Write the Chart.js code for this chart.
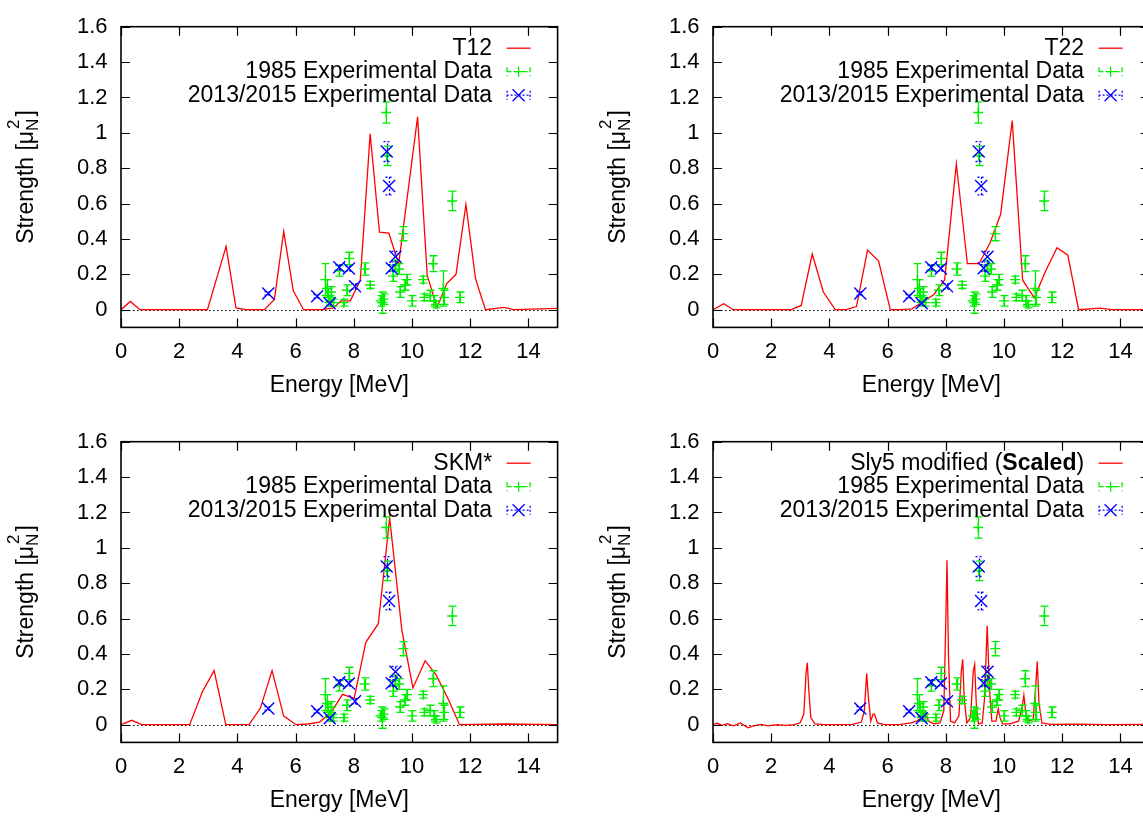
<!DOCTYPE html>
<html>
<head>
<meta charset="utf-8">
<title>M1 strength</title>
<script src="https://cdn.jsdelivr.net/npm/chart.js@4.4.0/dist/chart.umd.min.js"></script>
<style>
    html, body { margin: 0; padding: 0; background: #fff; overflow: hidden; }
    #wrap { position: relative; width: 1143px; height: 817px; overflow: hidden; }
    #wrap canvas { position: absolute; }
</style>
</head>
<body>
<div id="wrap">
    <canvas id="chart-t12" width="580" height="408" style="left:0px;top:0px"></canvas>
    <canvas id="chart-t22" width="580" height="408" style="left:592px;top:0px"></canvas>
    <canvas id="chart-skm" width="580" height="408" style="left:0px;top:415px"></canvas>
    <canvas id="chart-sly5" width="580" height="408" style="left:592px;top:415px"></canvas>
</div>
<script>
// ticks
const xTickValues = [0, 2, 4, 6, 8, 10, 12, 14];
const yTickValues = [0, 0.2, 0.4, 0.6, 0.8, 1, 1.2, 1.4, 1.6];

// theory curves (energy in MeV, strength in muN^2)
const t12Energy = [0, 0.32, 0.65, 2.97, 3.61, 3.95, 4.28, 4.93, 5.27, 5.59, 5.92, 6.27, 6.92, 7.3, 7.56, 7.88, 8.22, 8.56, 8.88, 9.2, 9.54, 10.19, 10.52, 10.86, 11.19, 11.51, 11.85, 12.18, 12.52, 13.16, 13.49, 15];
const t12Strength = [0, 0.047, 0, 0, 0.358, 0.01, 0, 0, 0.058, 0.443, 0.107, 0, 0, 0.01, 0.05, 0.05, 0.167, 0.995, 0.438, 0.433, 0.26, 1.09, 0.194, 0.013, 0.148, 0.2, 0.595, 0.176, 0, 0.013, 0, 0.007];

const t22Energy = [0, 0.37, 0.69, 2.69, 3.03, 3.41, 3.79, 4.2, 4.57, 4.93, 5.31, 5.69, 6.09, 6.46, 6.84, 7.21, 7.58, 7.96, 8.36, 8.74, 9.14, 9.52, 9.88, 10.28, 10.64, 11.04, 11.42, 11.82, 12.19, 12.56, 13.3, 13.7, 15];
const t22Strength = [0, 0.034, 0, 0, 0.024, 0.315, 0.1, 0, 0, 0.018, 0.337, 0.275, 0, 0, 0.005, 0.045, 0.085, 0.17, 0.824, 0.26, 0.26, 0.378, 0.538, 1.069, 0.167, 0.067, 0.216, 0.35, 0.308, 0, 0.009, 0, 0];

const skmEnergy = [0, 0.37, 0.71, 2.36, 2.8, 3.2, 3.6, 4.4, 4.79, 5.19, 5.59, 6.02, 6.42, 6.82, 7.22, 7.61, 8.01, 8.41, 8.84, 9.23, 9.65, 10.03, 10.45, 10.83, 11.23, 11.63, 13.2, 15];
const skmStrength = [0, 0.025, 0, 0, 0.188, 0.306, 0, 0, 0.094, 0.306, 0.049, 0, 0.004, 0.015, 0.07, 0.172, 0.149, 0.466, 0.571, 1.168, 0.533, 0.208, 0.362, 0.281, 0.149, 0, 0.004, 0];

const sly5Energy = [0, 0.15, 0.3, 0.5, 0.7, 0.95, 1.2, 1.4, 1.65, 1.9, 2.2, 2.5, 2.8, 3.0, 3.12, 3.2, 3.24, 3.29, 3.36, 3.5, 3.8, 4.3, 4.8, 5.1, 5.2, 5.28, 5.34, 5.42, 5.5, 5.55, 5.65, 5.9, 6.4, 6.8, 7.0, 7.15, 7.3, 7.4, 7.6, 7.8, 7.93, 8.0, 8.04, 8.09, 8.16, 8.3, 8.45, 8.53, 8.58, 8.63, 8.72, 8.85, 8.94, 8.99, 9.05, 9.12, 9.25, 9.33, 9.42, 9.5, 9.58, 9.72, 9.8, 9.86, 9.95, 10.2, 10.5, 10.62, 10.68, 10.75, 10.85, 11.0, 11.08, 11.14, 11.2, 11.3, 11.6, 12.5, 13.5, 15];
const sly5Strength = [0.003, 0.008, -0.004, 0.006, -0.006, 0.01, -0.018, -0.006, 0.002, -0.006, 0, -0.004, 0, 0.012, 0.06, 0.3, 0.35, 0.2, 0.04, 0.005, 0, 0, 0.002, 0.015, 0.08, 0.29, 0.15, 0.02, 0.06, 0.06, 0.01, 0, 0, 0.01, 0.02, 0.04, 0.075, 0.02, 0.005, 0.01, 0.08, 0.6, 0.93, 0.4, 0.02, 0.01, 0.05, 0.3, 0.37, 0.15, 0.01, 0.04, 0.3, 0.34, 0.1, 0.005, 0.01, 0.15, 0.56, 0.2, 0.02, 0.02, 0.09, 0.04, 0.005, 0.005, 0.02, 0.1, 0.167, 0.06, 0.02, 0.03, 0.2, 0.357, 0.12, 0.01, 0.002, 0.003, 0, 0.002];

// 1985 experimental data
const exp1985Energy = [7.02, 7.08, 7.12, 7.18, 7.22, 7.30, 7.50, 7.65, 7.76, 7.84, 8.37, 8.56, 8.92, 8.97, 9.02, 9.11, 9.13, 9.35, 9.42, 9.55, 9.59, 9.70, 9.75, 9.82, 10.0, 10.38, 10.42, 10.62, 10.72, 10.75, 10.82, 11.07, 11.10, 11.38, 11.64];
const exp1985Strength = [0.17, 0.12, 0.08, 0.05, 0.10, 0.04, 0.22, 0.04, 0.11, 0.29, 0.23, 0.14, 0.05, 0.04, 0.06, 1.115, 0.87, 0.19, 0.25, 0.23, 0.10, 0.43, 0.14, 0.17, 0.05, 0.17, 0.07, 0.08, 0.26, 0.05, 0.03, 0.12, 0.07, 0.615, 0.07];
const exp1985Error = [0.09, 0.05, 0.04, 0.03, 0.03, 0.02, 0.03, 0.02, 0.03, 0.035, 0.035, 0.02, 0.03, 0.06, 0.03, 0.06, 0.055, 0.03, 0.03, 0.03, 0.03, 0.04, 0.03, 0.03, 0.03, 0.02, 0.02, 0.03, 0.045, 0.03, 0.02, 0.10, 0.04, 0.055, 0.03];

// 2013/2015 experimental data
const exp2013Energy = [5.06, 6.74, 7.17, 7.50, 7.83, 8.04, 9.13, 9.21, 9.30, 9.43];
const exp2013Strength = [0.092, 0.076, 0.036, 0.24, 0.233, 0.132, 0.894, 0.699, 0.235, 0.30];
const exp2013Error = [0.01, 0.01, 0.01, 0.015, 0.015, 0.015, 0.056, 0.05, 0.02, 0.03];

const FONT = '"Liberation Sans", Arial, Helvetica, sans-serif';
const RED = '#ff0000';
const GREEN = '#00ee00';
const BLUE = '#0000ff';

function toPoints(xs, ys) {
    return xs.map((x, i) => ({ x: x, y: ys[i] }));
}

// gnuplot look: frame, inward ticks, zero axis, error bars, y title, key
const gnuplotLook = {
    id: 'gnuplotLook',
    beforeDatasetsDraw(chart) {
        const { ctx, chartArea: a, scales: { y } } = chart;
        const y0 = Math.round(y.getPixelForValue(0)) + 0.5;
        ctx.save();
        ctx.strokeStyle = '#000';
        ctx.lineWidth = 1;
        ctx.setLineDash([1.5, 2.5]);
        ctx.beginPath();
        ctx.moveTo(a.left, y0);
        ctx.lineTo(a.right, y0);
        ctx.stroke();
        ctx.restore();
    },
    afterDatasetDraw(chart, args) {
        const ds = chart.data.datasets[args.index];
        if (!ds.errors) return;
        const { ctx, chartArea: a, scales: { x, y } } = chart;
        ctx.save();
        ctx.beginPath();
        ctx.rect(a.left, a.top, a.width, a.height);
        ctx.clip();
        ctx.strokeStyle = ds.borderColor;
        ctx.lineWidth = 1.3;
        if (ds.errorDash) ctx.setLineDash(ds.errorDash);
        ds.data.forEach((p, i) => {
            const px = Math.round(x.getPixelForValue(p.x)) + 0.5;
            const lo = y.getPixelForValue(p.y - ds.errors[i]);
            const hi = y.getPixelForValue(p.y + ds.errors[i]);
            ctx.beginPath();
            ctx.moveTo(px, lo); ctx.lineTo(px, hi);
            ctx.moveTo(px - 4, lo); ctx.lineTo(px + 4, lo);
            ctx.moveTo(px - 4, hi); ctx.lineTo(px + 4, hi);
            ctx.stroke();
        });
        ctx.restore();
    },
    afterDraw(chart) {
        const { ctx, chartArea: a, scales: { x, y } } = chart;
        ctx.save();
        ctx.strokeStyle = '#000';
        ctx.lineWidth = 1.6;
        ctx.strokeRect(a.left, a.top, a.width, a.height);
        ctx.lineWidth = 1.2;
        ctx.beginPath();
        xTickValues.forEach(v => {
            const px = Math.round(x.getPixelForValue(v)) + 0.5;
            ctx.moveTo(px, a.bottom); ctx.lineTo(px, a.bottom - 9);
            ctx.moveTo(px, a.top); ctx.lineTo(px, a.top + 9);
        });
        yTickValues.forEach(v => {
            const py = Math.round(y.getPixelForValue(v)) + 0.5;
            ctx.moveTo(a.left, py); ctx.lineTo(a.left + 9, py);
            ctx.moveTo(a.right, py); ctx.lineTo(a.right - 9, py);
        });
        ctx.stroke();

        // y axis title: Strength [mu_N^2]
        const cy = (a.top + a.bottom) / 2;
        ctx.translate(33, cy);
        ctx.rotate(-Math.PI / 2);
        ctx.fillStyle = '#000';
        ctx.textBaseline = 'alphabetic';
        ctx.textAlign = 'left';
        const big = '23px ' + FONT, small = '17px ' + FONT;
        ctx.font = big;
        const w1 = ctx.measureText('Strength [\u03bc').width;
        const w4 = ctx.measureText(']').width;
        ctx.font = small;
        const w2 = ctx.measureText('N').width;
        const total = w1 + w2 + w4 + 2;
        let tx = -total / 2;
        ctx.font = big;
        ctx.fillText('Strength [\u03bc', tx, 0);
        tx += w1;
        ctx.font = small;
        ctx.fillText('N', tx, 5);
        ctx.fillText('2', tx + 2, -14);
        tx += w2 + 2;
        ctx.font = big;
        ctx.fillText(']', tx, 0);
        ctx.restore();

        drawKey(chart);
    }
};

function drawKey(chart) {
    const { ctx, chartArea: a } = chart;
    const parts = chart.options.plugins.gnuplotLook.title;
    const rows = [a.top + 21.5, a.top + 45, a.top + 68.5];
    const textRight = a.right - 65.5;
    const s1 = a.right - 51, s2 = a.right - 27, sm = (s1 + s2) / 2;
    const keyFont = '23px ' + FONT;
    ctx.save();
    ctx.fillStyle = '#000';
    ctx.textBaseline = 'middle';
    ctx.textAlign = 'left';

    // first row can have a bold piece
    let widths = parts.map(p => {
        ctx.font = (p.bold ? 'bold ' : '') + keyFont;
        return ctx.measureText(p.text).width;
    });
    let tx = textRight - widths.reduce((s, w) => s + w, 0);
    parts.forEach((p, i) => {
        ctx.font = (p.bold ? 'bold ' : '') + keyFont;
        ctx.fillText(p.text, tx, rows[0]);
        tx += widths[i];
    });
    ctx.font = keyFont;
    ctx.textAlign = 'right';
    ctx.fillText('1985 Experimental Data', textRight, rows[1]);
    ctx.fillText('2013/2015 Experimental Data', textRight, rows[2]);

    ctx.lineWidth = 1.3;
    ctx.strokeStyle = RED;
    ctx.beginPath();
    ctx.moveTo(s1, rows[0]); ctx.lineTo(s2, rows[0]);
    ctx.stroke();

    [[GREEN, rows[1], [5, 3]], [BLUE, rows[2], [2, 2]]].forEach(([col, ry, dash]) => {
        ctx.strokeStyle = col;
        ctx.lineWidth = 1.3;
        ctx.setLineDash(dash);
        ctx.beginPath();
        ctx.moveTo(s1, ry); ctx.lineTo(s2, ry);
        ctx.moveTo(s1 + 0.5, ry - 4.5); ctx.lineTo(s1 + 0.5, ry + 4.5);
        ctx.moveTo(s2 - 0.5, ry - 4.5); ctx.lineTo(s2 - 0.5, ry + 4.5);
        ctx.stroke();
        ctx.setLineDash([]);
        ctx.beginPath();
        if (col === GREEN) {
            ctx.moveTo(sm - 5, ry); ctx.lineTo(sm + 5, ry);
            ctx.moveTo(sm, ry - 5); ctx.lineTo(sm, ry + 5);
        } else {
            ctx.moveTo(sm - 6, ry - 6); ctx.lineTo(sm + 6, ry + 6);
            ctx.moveTo(sm - 6, ry + 6); ctx.lineTo(sm + 6, ry - 6);
        }
        ctx.stroke();
    });
    ctx.restore();
}

function createPanel(canvasId, lineEnergy, lineStrength, titleParts) {
    const ctx = document.getElementById(canvasId);
    if (!ctx) {
        console.error('Canvas ' + canvasId + ' no encontrado');
        return;
    }
    return new Chart(ctx, {
        type: 'scatter',
        data: {
            datasets: [
                {
                    type: 'line',
                    label: titleParts.map(p => p.text).join(''),
                    data: toPoints(lineEnergy, lineStrength),
                    borderColor: RED,
                    borderWidth: 1.3,
                    pointRadius: 0,
                    tension: 0,
                    fill: false,
                    order: 3
                },
                {
                    label: '1985 Experimental Data',
                    data: toPoints(exp1985Energy, exp1985Strength),
                    errors: exp1985Error,
                    borderColor: GREEN,
                    backgroundColor: GREEN,
                    pointStyle: 'cross',
                    pointRadius: 5,
                    pointBorderWidth: 1.4,
                    order: 2
                },
                {
                    label: '2013/2015 Experimental Data',
                    data: toPoints(exp2013Energy, exp2013Strength),
                    errors: exp2013Error,
                    errorDash: [2, 2],
                    borderColor: BLUE,
                    backgroundColor: BLUE,
                    pointStyle: 'crossRot',
                    pointRadius: 8.5,
                    pointBorderWidth: 1.4,
                    order: 1
                }
            ]
        },
        options: {
            responsive: false,
            animation: false,
            devicePixelRatio: 1,
            layout: { padding: { left: 0, top: 14.6, right: 22.4, bottom: 0 } },
            plugins: {
                legend: { display: false },
                tooltip: { enabled: false },
                gnuplotLook: { title: titleParts }
            },
            scales: {
                x: {
                    type: 'linear',
                    position: 'bottom',
                    min: 0,
                    max: 15,
                    grid: { display: false, drawTicks: false },
                    border: { display: false },
                    afterBuildTicks: s => { s.ticks = xTickValues.map(v => ({ value: v })); },
                    afterFit: s => { s.height = 80.6; },
                    ticks: {
                        color: '#000',
                        padding: 11.5,
                        maxRotation: 0,
                        font: { family: FONT, size: 22 },
                        callback: v => String(v)
                    },
                    title: {
                        display: true,
                        text: 'Energy [MeV]',
                        color: '#000',
                        font: { family: FONT, size: 23 },
                        padding: { top: 0, bottom: 8.5 }
                    }
                },
                y: {
                    type: 'linear',
                    min: -0.1,
                    max: 1.6,
                    grid: { display: false, drawTicks: false },
                    border: { display: false },
                    afterBuildTicks: s => { s.ticks = yTickValues.map(v => ({ value: v })); },
                    afterFit: s => { s.width = 121; },
                    ticks: {
                        color: '#000',
                        padding: 13.5,
                        font: { family: FONT, size: 22 },
                        callback: v => String(Number(v.toFixed(1)))
                    }
                }
            }
        },
        plugins: [gnuplotLook]
    });
}

createPanel('chart-t12', t12Energy, t12Strength, [{ text: 'T12' }]);
createPanel('chart-t22', t22Energy, t22Strength, [{ text: 'T22' }]);
createPanel('chart-skm', skmEnergy, skmStrength, [{ text: 'SKM*' }]);
createPanel('chart-sly5', sly5Energy, sly5Strength, [{ text: 'Sly5 modified (' }, { text: 'Scaled', bold: true }, { text: ')' }]);
</script>
</body>
</html>
